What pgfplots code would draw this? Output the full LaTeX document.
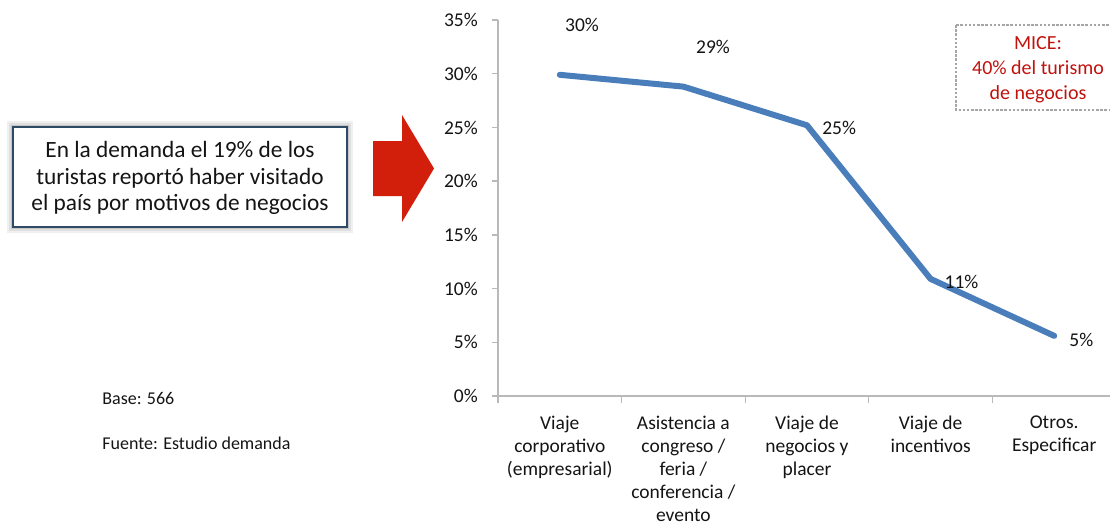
\documentclass[border=0pt]{standalone}
\usepackage{pgfplots}
\pgfplotsset{compat=1.18}
\usepackage{fontspec}
\setmainfont{Carlito}
\definecolor{lineblue}{HTML}{4A7EBB}
\definecolor{arrowred}{HTML}{D21F0B}
\definecolor{micered}{HTML}{C0110C}
\definecolor{boxborder}{HTML}{2E4A66}
\definecolor{txt}{HTML}{141414}
\begin{document}
\begin{tikzpicture}
\path[use as bounding box] (0,0) rectangle (666pt,-316.8pt);
\begin{axis}[
  at={(298.8pt,-237.6pt)}, anchor=south west,
  scale only axis, width=370.8pt, height=225.6pt,
  xmin=-0.5, xmax=4.5, ymin=0, ymax=35,
  axis x line=bottom, axis y line=left,
  axis line style={-, draw=gray!55, line width=0.8pt},
  tick align=outside,
  ytick={0,5,...,35},
  yticklabel={\pgfmathprintnumber{\tick}\%},
  /pgf/number format/assume math mode=true,
  xtick={0,1,2,3,4},
  xticklabels={{Viaje\\corporativo\\(empresarial)},{Asistencia a\\congreso /\\feria /\\conferencia /\\evento},{Viaje de\\negocios y\\placer},{Viaje de\\incentivos},{Otros.\\Especificar}},
  minor xtick={-0.5,0.5,1.5,2.5,3.5,4.5},
  major x tick style={draw=none},
  minor tick length=4.2pt, major tick length=3.6pt,
  tick style={draw=gray!55, line width=0.8pt},
  every tick label/.append style={font=\fontsize{11.7}{13.8}\selectfont, text=txt},
  xticklabel style={align=center, anchor=north, yshift=-5pt},
  yticklabel style={xshift=-5pt},
  clip=false,
]
\addplot[lineblue, line width=3.6pt, line cap=round, line join=round] coordinates {
  (0,29.9) (1,28.8) (2,25.2) (3,10.9) (4,5.6)
};
\begin{scope}[every node/.style={font=\fontsize{11.7}{13.8}\selectfont, text=txt}]
\node at (axis cs:0.18,34.5) {30\%};
\node at (axis cs:1.24,32.5) {29\%};
\node at (axis cs:2.26,24.95) {25\%};
\node at (axis cs:3.25,10.6) {11\%};
\node at (axis cs:4.22,5.2) {5\%};
\end{scope}
\end{axis}
\begin{scope}[x=0.6pt,y=-0.6pt]
% left text box with soft shadow
\fill[gray!12] (7,121) rectangle (353,233);
\fill[gray!25] (9,123) rectangle (351,231);
\fill[gray!45] (11,125) rectangle (349,229);
\draw[boxborder, line width=1.3pt, fill=white] (13,127) rectangle (347,227);
\node[align=center, text=txt, font=\fontsize{14}{16}\selectfont] at (180,178)
  {En la demanda el 19\% de los\\turistas reportó haber visitado\\el país por motivos de negocios};
% red arrow
\fill[arrowred] (373,141) -- (402,141) -- (402,115) -- (434,168.5) -- (402,222) -- (402,196) -- (373,196) -- cycle;
% MICE box
\draw[gray!70, line width=0.9pt, dash pattern=on 1.5pt off 1pt] (956,25) rectangle (1114,110);
\node[align=center, text=micered, font=\fontsize{12}{15}\selectfont] at (1038,70)
  {MICE:\\40\% del turismo\\de negocios};
% notes
\node[anchor=west, text=txt, font=\fontsize{10.8}{12}\selectfont, inner sep=0pt] at (102,398) {Base: 566};
\node[anchor=west, text=txt, font=\fontsize{10.8}{12}\selectfont, inner sep=0pt] at (102,443) {Fuente: Estudio demanda};
\end{scope}
\end{tikzpicture}
\end{document}
